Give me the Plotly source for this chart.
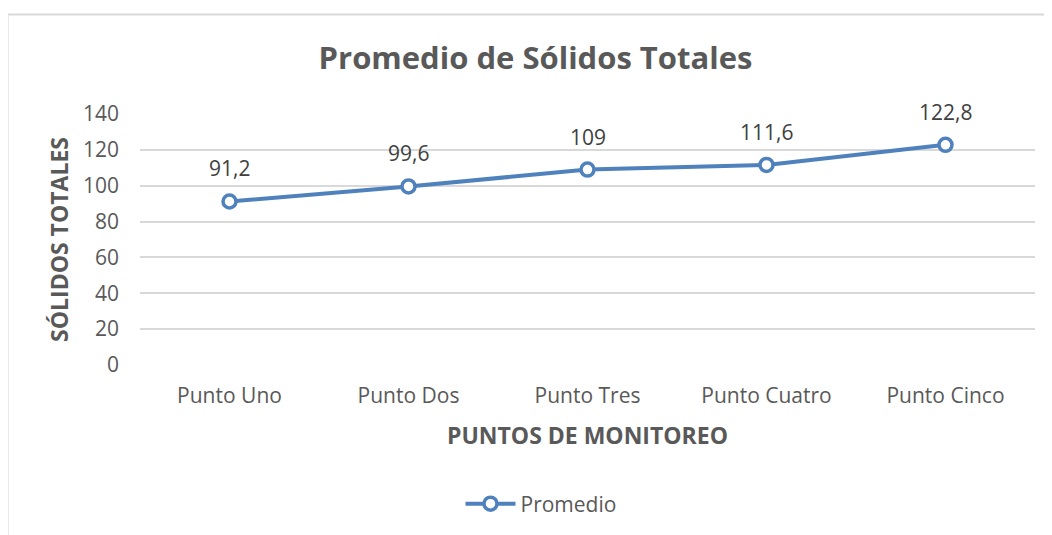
import plotly.graph_objects as go

puntos = ["Punto Uno", "Punto Dos", "Punto Tres", "Punto Cuatro", "Punto Cinco"]
promedio = [91.2, 99.6, 109, 111.6, 122.8]
y_ticks = [0, 20, 40, 60, 80, 100, 120, 140]

FONT = "'Open Sans', sans-serif"
BLUE = "#4f81bd"
GREY = "#595959"
OFF = 8  # page body margin in the browser

fig = go.Figure()
fig.add_trace(go.Scatter(
    x=puntos, y=promedio, mode="lines+markers", name="Promedio",
    line=dict(color=BLUE, width=4),
    marker=dict(symbol="circle", size=13, color="white", line=dict(color=BLUE, width=3.5)),
))

# data labels, comma as decimal separator
for p, v in zip(puntos, promedio):
    fig.add_annotation(x=p, y=v, text=f"{v:g}".replace(".", ","), showarrow=False,
                       yshift=33, font=dict(family=FONT, size=21, color="#404040"))

W, H = 1052, 535
l, r = 140 - OFF, W - (1035.5 - OFF)
t, b = 114 - OFF, H - (365 - OFF)
pw, ph = W - l - r, H - t - b

# chart border (top and left visible)
bx = (7.5 - OFF - l) / pw
by = (H - b - (14.5 - OFF)) / ph
fig.add_shape(type="line", xref="paper", yref="paper", x0=bx, y0=by, x1=1.2, y1=by,
              line=dict(color="#d9d9d9", width=2))
fig.add_shape(type="line", xref="paper", yref="paper", x0=bx, y0=by, x1=bx, y1=-1,
              line=dict(color="#d9d9d9", width=2))

fig.update_layout(
    width=W, height=H,
    margin=dict(l=l, r=r, t=t, b=b),
    paper_bgcolor="white", plot_bgcolor="white",
    font=dict(family=FONT, color=GREY),
    title=dict(text="<b>Promedio de Sólidos Totales</b>", x=(535.5 - OFF) / W, xanchor="center",
               xref="container", y=1 - (58 - OFF) / H, yanchor="middle", yref="container",
               font=dict(family=FONT, size=31, color=GREY)),
    xaxis=dict(showgrid=False, tickfont=dict(size=21, color=GREY), ticks="",
               range=[-0.5, 4.5], ticklabelstandoff=16,
               title=dict(text="<b>PUNTOS DE MONITOREO</b>", font=dict(size=23, color=GREY), standoff=19)),
    yaxis=dict(range=[0, 140], tickvals=y_ticks, gridcolor="#d9d9d9", gridwidth=1.5,
               zeroline=False, showline=False, ticks="", ticklabelstandoff=20,
               tickfont=dict(size=21, color=GREY),
               title=dict(text="<b>SÓLIDOS TOTALES</b>", font=dict(size=23, color=GREY), standoff=7)),
    showlegend=True,
    legend=dict(orientation="h", xref="container", yref="container", x=(541 - OFF) / W, xanchor="center",
                y=1 - (504 - OFF) / H, yanchor="middle", font=dict(size=21, color=GREY), itemwidth=50),
)

fig.write_html("out.html")
